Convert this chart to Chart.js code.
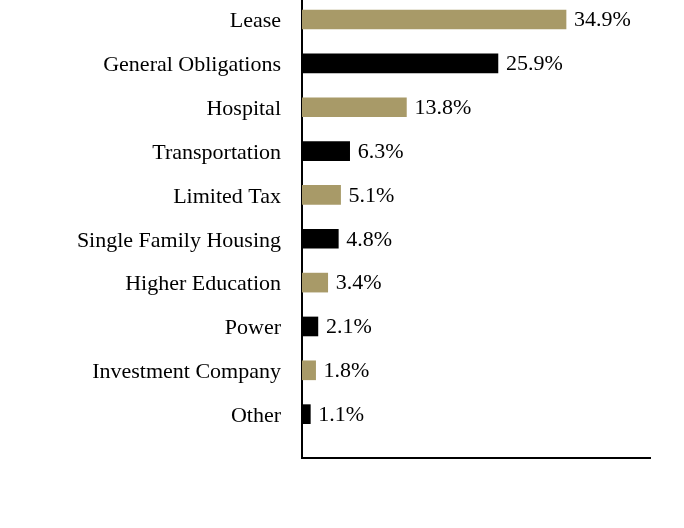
<!DOCTYPE html>
<html>
<head>
<meta charset="utf-8">
<script src="https://cdn.jsdelivr.net/npm/chart.js@4"></script>
<style>
  html, body { margin: 0; padding: 0; background: #fff; }
  #wrap { width: 684px; height: 528px; }
</style>
</head>
<body>
<div id="wrap"><canvas id="chart" width="684" height="528"></canvas></div>
<script>
const categories = ['Lease', 'General Obligations', 'Hospital', 'Transportation', 'Limited Tax',
  'Single Family Housing', 'Higher Education', 'Power', 'Investment Company', 'Other'];
const values = [34.9, 25.9, 13.8, 6.3, 5.1, 4.8, 3.4, 2.1, 1.8, 1.1];
const barColors = ['#A89A68', '#000000'];

const serif = '"Liberation Serif", "Times New Roman", serif';

// value labels at the end of each bar
const valueLabels = {
  id: 'valueLabels',
  afterDatasetsDraw(chart) {
    const ctx = chart.ctx;
    const meta = chart.getDatasetMeta(0);
    ctx.save();
    ctx.font = '22px ' + serif;
    ctx.fillStyle = '#000';
    ctx.textBaseline = 'middle';
    ctx.textAlign = 'left';
    meta.data.forEach((bar, i) => {
      ctx.fillText(values[i].toFixed(1) + '%', bar.x + 8, bar.y + 1);
    });
    ctx.restore();
  }
};

new Chart(document.getElementById('chart'), {
  type: 'bar',
  data: {
    datasets: [{
      data: values.map((v, i) => ({ x: v, y: i })),
      backgroundColor: values.map((v, i) => barColors[i % 2]),
      barThickness: 19
    }]
  },
  options: {
    indexAxis: 'y',
    responsive: false,
    animation: false,
    layout: { padding: { top: 0, right: 34, bottom: 70, left: 0 } },
    plugins: { legend: { display: false }, tooltip: { enabled: false } },
    scales: {
      x: {
        type: 'linear',
        min: 0,
        max: 46,
        grid: { display: false },
        border: { display: true, color: '#000', width: 2 },
        ticks: { display: false },
        afterFit: (scale) => { scale.height = 0; }
      },
      y: {
        type: 'linear',
        reverse: true,
        offset: false,
        bounds: 'data',
        min: -0.445,
        max: 10,
        grid: { display: false, offset: false },
        border: { display: true, color: '#000', width: 2 },
        afterBuildTicks: (scale) => { scale.ticks = categories.map((c, i) => ({ value: i })); },
        afterFit: (scale) => { scale.width = 302; scale.paddingTop = 0; scale.paddingBottom = 0; },
        ticks: {
          autoSkip: false,
          padding: 13,
          labelOffset: 2,
          color: '#000',
          font: { family: serif, size: 22 },
          callback: (v) => categories[v]
        }
      }
    }
  },
  plugins: [valueLabels]
});
</script>
</body>
</html>
